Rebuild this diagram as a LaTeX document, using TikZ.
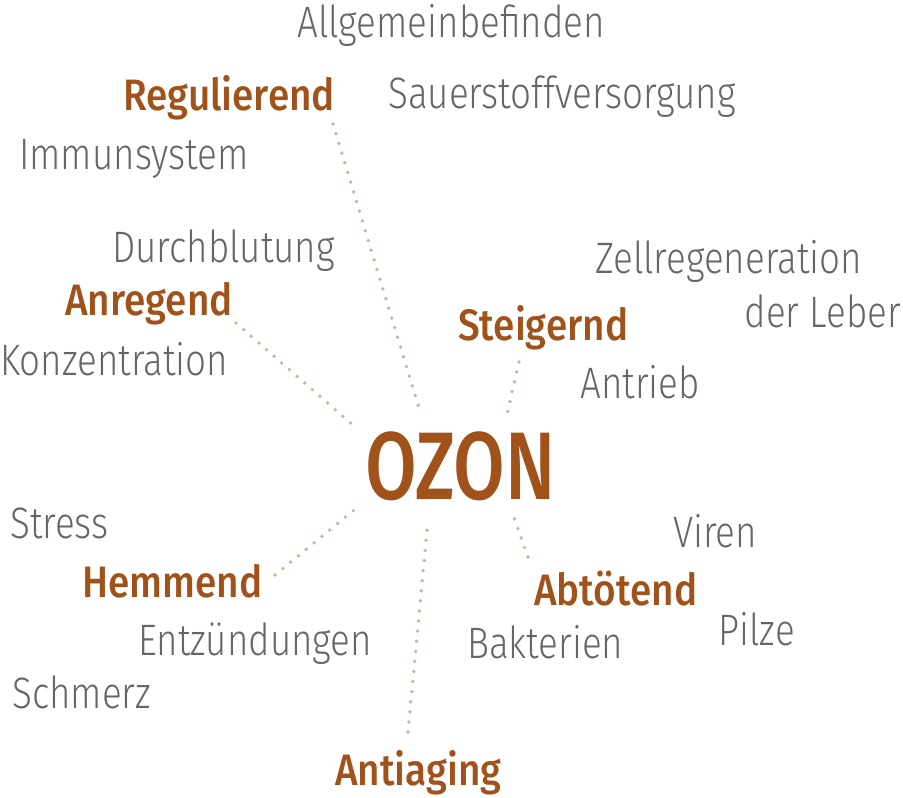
\documentclass[tikz,border=0pt]{standalone}
\usepackage{fontspec}
\setmainfont{Fira Sans}[UprightFont=* Light, FakeStretch=0.835]
\newfontfamily\wirkfont{Fira Sans}[UprightFont=* Medium, FakeStretch=0.88]
\newfontfamily\ozonfont{Fira Sans}[UprightFont=* Medium, FakeStretch=0.78]
\definecolor{ozonbraun}{RGB}{160,82,26}
\definecolor{textgrau}{RGB}{102,102,102}
\definecolor{punktfarbe}{RGB}{198,181,154}
\begin{document}
\begin{tikzpicture}[x=0.75pt,y=-0.75pt,
    wort/.style={anchor=base west,inner sep=0pt,text=textgrau,font=\fontsize{33}{36}\selectfont},
    wirkung/.style={anchor=base west,inner sep=0pt,text=ozonbraun,font=\fontsize{33}{36}\wirkfont},
    punkte/.style={punktfarbe,line width=2.8pt,line cap=round,dash pattern=on 0pt off 7.6pt}]
                \useasboundingbox (0,0) rectangle (903,797) ;
                % Mitte
                \node[anchor=base west,inner sep=0pt,text=ozonbraun,font=\fontsize{72}{80}\ozonfont] (ozon) at (365,499) {OZON} ;
                % Wirkungen
                \node[wirkung] (reg) at (123,110) {Regulierend} ;
                \node[wirkung] (anr) at (65,315) {Anregend} ;
                \node[wirkung] (stg) at (458,340) {Steigernd} ;
                \node[wirkung] (hem) at (82,597) {Hemmend} ;
                \node[wirkung] (abt) at (534,605) {Abtötend} ;
                \node[wirkung] (anti) at (335,785) {Antiaging} ;
                % Begriffe
                \node[wort] (allg) at (297,37) {Allgemeinbefinden} ;
                \node[wort] (sauer) at (388,108) {Sauerstoffversorgung} ;
                \node[wort] (immun) at (19,169) {Immunsystem} ;
                \node[wort] (durch) at (112,262) {Durchblutung} ;
                \node[wort] (zell) at (595,273) {Zellregeneration} ;
                \node[wort,anchor=base east] (leber) at (901,327) {der Leber} ;
                \node[wort] (konz) at (0,375) {Konzentration} ;
                \node[wort] (antr) at (580,398) {Antrieb} ;
                \node[wort] (stress) at (10,538) {Stress} ;
                \node[wort] (viren) at (673,547) {Viren} ;
                \node[wort] (entz) at (138,655) {Entzündungen} ;
                \node[wort] (bakt) at (467,658) {Bakterien} ;
                \node[wort] (pilze) at (718,645) {Pilze} ;
                \node[wort] (schm) at (12,708) {Schmerz} ;
                % Enden der Punktlinien
                \coordinate (reg-a) at (333,124) ;
                \coordinate (reg-b) at (419,408) ;
                \coordinate (anr-a) at (236,323) ;
                \coordinate (anr-b) at (354,426) ;
                \coordinate (stg-a) at (519,362) ;
                \coordinate (stg-b) at (507,414) ;
                \coordinate (hem-a) at (275,575) ;
                \coordinate (hem-b) at (354,510) ;
                \coordinate (abt-a) at (528,557) ;
                \coordinate (abt-b) at (513,515) ;
                \coordinate (anti-a) at (408,732) ;
                \coordinate (anti-b) at (427,530) ;
                \draw[punkte] (reg-a) -- (reg-b) ;
                \draw[punkte] (anr-a) -- (anr-b) ;
                \draw[punkte] (stg-a) -- (stg-b) ;
                \draw[punkte] (hem-a) -- (hem-b) ;
                \draw[punkte] (abt-a) -- (abt-b) ;
                \draw[punkte] (anti-a) -- (anti-b) ;
            \end{tikzpicture}
\end{document}
